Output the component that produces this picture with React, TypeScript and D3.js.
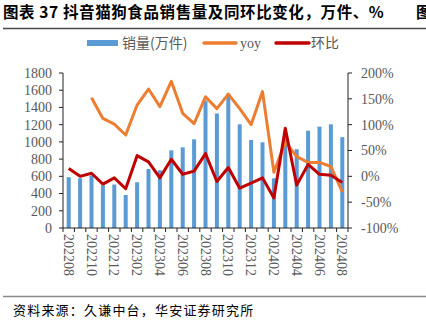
import React from "react";
import * as d3 from "d3";

const months = [
  "202208","202209","202210","202211","202212","202301","202302","202303","202304",
  "202305","202306","202307","202308","202309","202310","202311","202312","202401",
  "202402","202403","202404","202405","202406","202407","202408",
];
const sales = [590, 578, 610, 495, 505, 383, 531, 685, 670, 902, 937, 1030, 1480, 1330, 1560, 1204, 1022, 995, 577, 1060, 915, 1130, 1177, 1204, 1055];
const yoy: (number | null)[] = [null, null, 152, 112, 101, 80, 138, 169, 135, 184, 122, 102, 154, 131, 159, 131, 100, 164, 8, 67, 38, 27, 27, 19, -30];
const mom = [15, 0, 6, -15, -3, -24, 40, 28, -3, 33, 4, 10, 44, -10, 17, -23, -13, -3, -42, 93, -17, 23, 4, 2, -12];
const leftTicks = [0, 200, 400, 600, 800, 1000, 1200, 1400, 1600, 1800];
const rightTicks = [-100, -50, 0, 50, 100, 150, 200];
const labelMonths = months.filter((_, i) => i % 2 === 0);

const W = 426, H = 322;
const X0 = 63, X1 = 348, Y0 = 228, Y1 = 73;
const serif = "'Liberation Serif', 'DejaVu Serif', serif";
const cjk = "'Noto Sans CJK SC', sans-serif";
const gray = "#595959";

export default function App() {
  const x = d3.scaleBand<string>().domain(months).range([X0, X1]).padding(0);
  const yL = d3.scaleLinear().domain([0, 1800]).range([Y0, Y1]);
  const yR = d3.scaleLinear().domain([-100, 200]).range([Y0, Y1]);
  const cx = (m: string) => (x(m) as number) + x.bandwidth() / 2;

  const yoyLine = d3
    .line<number | null>()
    .defined((d) => d !== null)
    .x((_, i) => cx(months[i]))
    .y((d) => yR(d as number));
  const momLine = d3
    .line<number>()
    .x((_, i) => cx(months[i]))
    .y((d) => yR(d));

  const bw = 4;
  return (
    <svg width={W} height={H} style={{ position: "absolute", left: 0, top: 0, background: "#fff" }}>
      {/* title */}
      <text x={3} y={18} fontFamily={cjk} fontWeight="bold" fontSize={15.5} letterSpacing={0.6} fill="#000">
        图表 37 抖音猫狗食品销售量及同环比变化，万件、%
      </text>
      <text x={416} y={18} fontFamily={cjk} fontWeight="bold" fontSize={15.5} fill="#000">图</text>
      <line x1={3} x2={426} y1={28.5} y2={28.5} stroke="#4a4a4a" strokeWidth={1.6} />

      {/* legend */}
      <rect x={87} y={40} width={31} height={6} fill="#5B9BD5" />
      <text x={122} y={47.5} fontFamily={cjk} fontSize={14} fill={gray}>销量(万件)</text>
      <line x1={204} x2={236} y1={43} y2={43} stroke="#ED7D31" strokeWidth={3.5} strokeLinecap="round" />
      <text x={240} y={47.5} fontFamily={serif} fontSize={14} fill={gray}>yoy</text>
      <line x1={276} x2={309} y1={43} y2={43} stroke="#C00000" strokeWidth={3.5} strokeLinecap="round" />
      <text x={311} y={47.5} fontFamily={cjk} fontSize={14} fill={gray}>环比</text>

      {/* bars */}
      {sales.map((v, i) => (
        <rect key={months[i]} x={cx(months[i]) - bw / 2} y={yL(v)} width={bw} height={Y0 - yL(v)} fill="#5B9BD5" />
      ))}

      {/* lines */}
      <path d={yoyLine(yoy) || ""} fill="none" stroke="#ED7D31" strokeWidth={3} strokeLinejoin="round" />
      <path d={momLine(mom) || ""} fill="none" stroke="#C00000" strokeWidth={3} strokeLinejoin="round" />

      {/* left axis */}
      <line x1={X0} x2={X0} y1={Y1} y2={Y0} stroke="#222" strokeWidth={1} />
      {leftTicks.map((t) => (
        <g key={"l" + t}>
          <line x1={X0 - 4} x2={X0} y1={yL(t)} y2={yL(t)} stroke="#222" />
          <text x={52} y={yL(t)} dy="0.35em" textAnchor="end" fontFamily={serif} fontSize={14} fill={gray}>{t}</text>
        </g>
      ))}

      {/* right axis */}
      <line x1={X1} x2={X1} y1={Y1} y2={Y0} stroke="#222" strokeWidth={1} />
      {rightTicks.map((t) => (
        <g key={"r" + t}>
          <line x1={X1} x2={X1 + 4} y1={yR(t)} y2={yR(t)} stroke="#222" />
          <text x={361} y={yR(t)} dy="0.35em" textAnchor="start" fontFamily={serif} fontSize={14} fill={gray}>{t}%</text>
        </g>
      ))}

      {/* x axis */}
      <line x1={X0} x2={X1} y1={Y0} y2={Y0} stroke="#222" strokeWidth={1} />
      {months.concat(["end"]).map((m, i) => {
        const xx = X0 + i * x.bandwidth();
        return <line key={"t" + i} x1={xx} x2={xx} y1={Y0} y2={Y0 + 4} stroke="#222" />;
      })}
      {labelMonths.map((m) => (
        <text
          key={"x" + m}
          transform={`translate(${cx(m)},${234}) rotate(90)`}
          dy="0.35em"
          textAnchor="start"
          fontFamily={serif}
          fontSize={14}
          fill={gray}
        >
          {m}
        </text>
      ))}

      {/* source */}
      <line x1={3} x2={426} y1={296.5} y2={296.5} stroke="#8a8a8a" strokeWidth={1.5} />
      <text x={13} y={315} fontFamily={cjk} fontSize={13} letterSpacing={1.2} fill="#000">
        资料来源：久谦中台，华安证券研究所
      </text>
    </svg>
  );
}
